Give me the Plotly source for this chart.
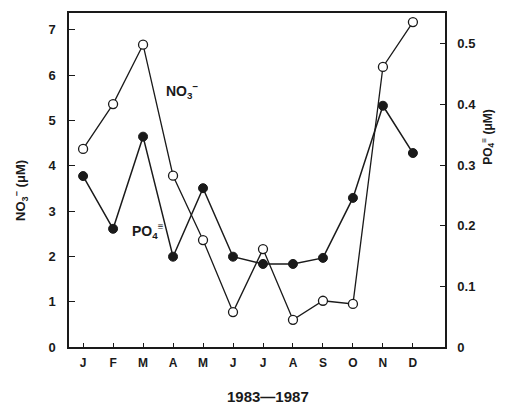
import plotly.graph_objects as go

months = ["J", "F", "M", "A", "M", "J", "J", "A", "S", "O", "N", "D"]
no3 = [4.37, 5.36, 6.67, 3.78, 2.36, 0.77, 2.16, 0.60, 1.02, 0.95, 6.18, 7.17]
po4 = [0.282, 0.195, 0.347, 0.149, 0.262, 0.149, 0.137, 0.137, 0.147, 0.246, 0.398, 0.320]
left_ticks = [0, 1, 2, 3, 4, 5, 6, 7]
right_ticks = [0, 0.1, 0.2, 0.3, 0.4, 0.5]
right_ticklabels = ["0", "0.1", "0.2", "0.3", "0.4", "0.5"]

x = list(range(len(months)))
FONT = "Liberation Sans"
INK = "#1a1a1a"

fig = go.Figure()
fig.add_trace(go.Scatter(
    x=x, y=no3, mode="lines+markers", yaxis="y",
    line=dict(color=INK, width=1.3),
    marker=dict(symbol="circle", size=9, color="white", line=dict(color=INK, width=1.3)),
    showlegend=False))
fig.add_trace(go.Scatter(
    x=x, y=po4, mode="lines+markers", yaxis="y2",
    line=dict(color=INK, width=1.5),
    marker=dict(symbol="circle", size=9, color=INK, line=dict(color=INK, width=1)),
    showlegend=False))

tick_font = dict(size=13, family=FONT, color=INK, weight="bold")

fig.update_layout(
    width=505, height=405,
    margin=dict(l=69, r=60, t=13, b=58),
    paper_bgcolor="white", plot_bgcolor="white",
    font=dict(family=FONT, color=INK, size=13),
    xaxis=dict(
        range=[-0.47, 12.07], tickvals=x, ticktext=months,
        ticks="inside", ticklen=4, tickcolor=INK, tickwidth=1,
        showline=True, linecolor=INK, linewidth=1.5, mirror=True,
        showgrid=False, zeroline=False, ticklabelstandoff=4,
        tickfont=dict(size=12, family=FONT, color=INK, weight="bold"),
    ),
    yaxis=dict(
        range=[0, 7.37], tickvals=left_ticks,
        ticks="inside", ticklen=6, tickcolor=INK, tickwidth=1,
        showline=True, linecolor=INK, linewidth=1.5,
        showgrid=False, zeroline=False, ticklabelstandoff=9,
        tickfont=tick_font,
    ),
    yaxis2=dict(
        range=[0, 0.551], tickvals=right_ticks, ticktext=right_ticklabels,
        overlaying="y", side="right",
        ticks="inside", ticklen=5, tickcolor=INK, tickwidth=1,
        showline=True, linecolor=INK, linewidth=1.5,
        showgrid=False, zeroline=False, ticklabelstandoff=8,
        tickfont=tick_font,
    ),
    annotations=[
        dict(text="NO<sub>3</sub><sup>−</sup> (μM)", xref="paper", yref="paper",
             x=-0.128, y=0.47, xanchor="center", yanchor="middle",
             textangle=-90, showarrow=False,
             font=dict(size=13, family=FONT, color=INK, weight="bold")),
        dict(text="PO<sub>4</sub><sup>≡</sup> (μM)", xref="paper", yref="paper",
             x=1.114, y=0.629, xanchor="center", yanchor="middle",
             textangle=-90, showarrow=False,
             font=dict(size=12, family=FONT, color=INK, weight="bold")),
        dict(text="1983—1987", xref="paper", yref="paper",
             x=0.529, y=-0.147, xanchor="center", yanchor="middle", showarrow=False,
             font=dict(size=15, family=FONT, color=INK, weight="bold")),
        dict(text="NO<sub>3</sub><sup>−</sup>", xref="x", yref="y",
             x=2.7, y=5.65, showarrow=False, xanchor="left",
             font=dict(size=14, family=FONT, color=INK, weight="bold")),
        dict(text="PO<sub>4</sub><sup>≡</sup>", xref="x", yref="y",
             x=1.57, y=2.55, showarrow=False, xanchor="left",
             font=dict(size=14, family=FONT, color=INK, weight="bold")),
    ],
)

fig.write_html(
    "out.html",
    config={"displayModeBar": False},
    post_script="document.body.style.margin='0px';document.body.style.overflow='hidden';",
)
